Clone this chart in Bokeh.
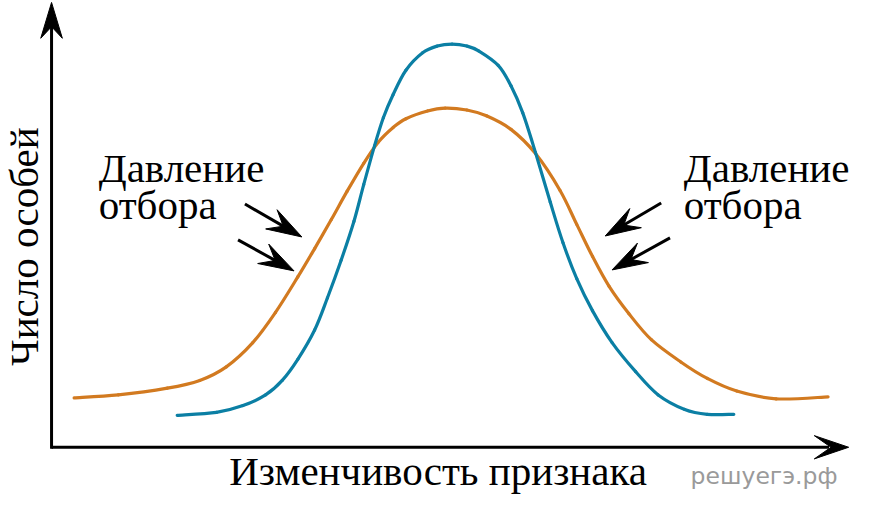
import numpy as np
from bokeh.plotting import figure
from bokeh.models import Range1d, ColumnDataSource
from bokeh.core.properties import value
from bokeh.embed import file_html
from bokeh.resources import INLINE

# ---- data (drawing coordinates on an 873 x 518 canvas, y grows downward) ----
blue_x = [180, 220, 247, 270, 287, 303, 320, 333, 347, 360, 370, 381, 390, 400, 413, 430, 445, 460,
          475, 487, 507, 520, 532, 545, 560, 573, 587, 603, 623, 647, 670, 697, 720, 747]
blue_y = [428, 425, 418, 407, 392, 370, 340, 307, 268, 228, 190, 150, 121, 97, 72, 54, 47, 45,
          47, 52, 67, 88, 116, 157, 208, 250, 287, 320, 353, 383, 407, 422, 427, 427]

orange_x = [75, 120, 170, 203, 230, 257, 280, 303, 320, 337, 353, 370, 385, 400, 413, 435, 453, 475,
            495, 520, 545, 570, 587, 603, 620, 640, 663, 693, 720, 750, 790, 843]
orange_y = [410, 407, 400, 392, 378, 353, 322, 285, 256, 226, 197, 168, 146, 131, 122, 114, 111, 113,
            119, 133, 158, 196, 231, 264, 295, 323, 350, 373, 390, 403, 411, 409]

# arrows: (tail_x, tail_y, tip_x, tip_y)
pressure_arrows = [(249, 210, 307, 244), (242, 247, 299, 279),
                   (673, 209, 616, 243), (682, 245, 623, 278)]
axis_origin = (52, 461)
axis_x_tip = (864, 461)
axis_y_tip = (52, 2)

label_left_x = 100
label_right_x = 696
label_lines = ["Давление", "отбора"]
label_baselines = [184, 222]
x_title = "Изменчивость признака"
y_title = "Число особей"
watermark = "решуегэ.рф"

BLUE = "#0b7fa4"
ORANGE = "#d27a20"

W, H = 857, 502
CW, CH = 873, 518
p = figure(width=W, height=H, x_range=Range1d(0, CW), y_range=Range1d(CH, 0),
           output_backend="svg", toolbar_location=None, min_border=0)
p.axis.visible = False
p.grid.visible = False
p.outline_line_color = None
p.background_fill_color = "white"
p.border_fill_color = "white"
sy = H / CH


def head(tail, tip, L, Wd, N):
    tx, ty = tip
    dx, dy = tip[0] - tail[0], tip[1] - tail[1]
    n = np.hypot(dx, dy)
    dx, dy = dx / n, dy / n
    nx, ny = -dy, dx
    xs = [tx, tx - L * dx + Wd * nx, tx - N * dx, tx - L * dx - Wd * nx]
    ys = [ty, ty - L * dy + Wd * ny, ty - N * dy, ty - L * dy - Wd * ny]
    return xs, ys


def smooth(xs, ys, color):
    P = np.column_stack([xs, ys]).astype(float)
    Q = np.vstack([P[0], P, P[-1]])
    x0, y0, x1, y1, cx0, cy0, cx1, cy1 = ([] for _ in range(8))
    for i in range(1, len(Q) - 2):
        a, b, c, d = Q[i - 1], Q[i], Q[i + 1], Q[i + 2]
        c1 = b + (c - a) / 6.0
        c2 = c - (d - b) / 6.0
        x0.append(b[0]); y0.append(b[1]); x1.append(c[0]); y1.append(c[1])
        cx0.append(c1[0]); cy0.append(c1[1]); cx1.append(c2[0]); cy1.append(c2[1])
    p.bezier(x0=x0, y0=y0, x1=x1, y1=y1, cx0=cx0, cy0=cy0, cx1=cx1, cy1=cy1,
             line_color=color, line_width=3.2, line_cap="round")

# axes
p.line([axis_origin[0], axis_x_tip[0] - 20], [axis_origin[1], axis_x_tip[1]], line_color="black", line_width=3)
p.line([axis_origin[0], axis_y_tip[0]], [axis_origin[1] + 1.5, axis_y_tip[1] + 20], line_color="black", line_width=3)
hx, hy = head(axis_origin, axis_x_tip, 35, 12, 18)
p.patch(hx, hy, color="black")
hx, hy = head(axis_origin, axis_y_tip, 37, 11, 25)
p.patch(hx, hy, color="black")

# curves
smooth(orange_x, orange_y, ORANGE)
smooth(blue_x, blue_y, BLUE)

# pressure arrows
for (x0, y0, x1, y1) in pressure_arrows:
    hx, hy = head((x0, y0), (x1, y1), 36, 11.5, 22)
    dx, dy = x1 - x0, y1 - y0
    n = np.hypot(dx, dy)
    p.line([x0, x1 - 20 * dx / n], [y0, y1 - 20 * dy / n], line_color="black", line_width=3)
    p.patch(hx, hy, color="black")

serif = value("Liberation Serif")
FS = 41
shift = 0.27 * FS / sy
src = ColumnDataSource(dict(
    x=[label_left_x, label_left_x, label_right_x, label_right_x],
    y=[b - shift for b in label_baselines + label_baselines],
    t=label_lines + label_lines))
p.text(x="x", y="y", text="t", source=src, text_font=serif, text_font_size=f"{FS}px",
       text_baseline="alphabetic", text_align="left", text_color="black")

p.text(x=[233], y=[497 - shift], text=[x_title], text_font=serif, text_font_size=f"{FS}px",
       text_baseline="alphabetic", text_align="left", text_color="black")
p.text(x=[23.5], y=[254], text=[y_title], text_font=serif, text_font_size=f"{FS}px",
       text_baseline="alphabetic", text_align="center", text_color="black", angle=np.pi / 2)
p.text(x=[703], y=[497 - 0.27 * 23.5 / sy], text=[watermark], text_font=value("DejaVu Sans"),
       text_font_size="23.5px", text_baseline="alphabetic", text_align="left", text_color="#9a9a9a")

open("out.html", "w").write(file_html(p, INLINE))
